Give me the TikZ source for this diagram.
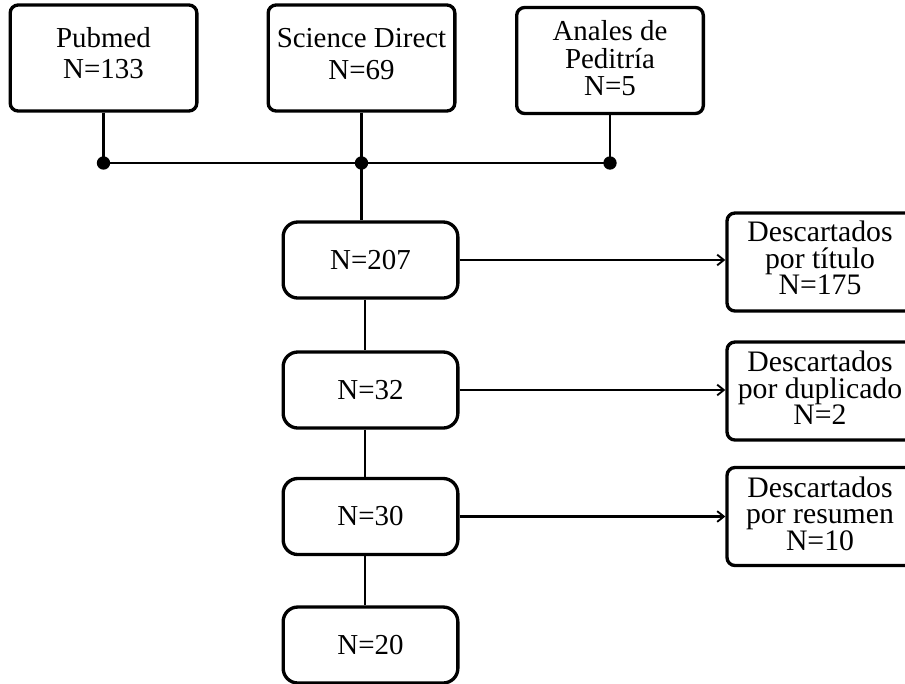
\documentclass[tikz,border=0pt]{standalone}
\usepackage{fontspec}
\setmainfont{Liberation Serif}
\usetikzlibrary{arrows.meta}
\begin{document}
\begin{tikzpicture}[x=0.75pt,y=-0.75pt,
  every node/.style={align=center, inner sep=0pt},
  toptxt/.style={font=\fontsize{21.7pt}{23.8pt}\selectfont},
  antxt/.style={font=\fontsize{21.7pt}{20.6pt}\selectfont},
  sidetxt/.style={font=\fontsize{22.3pt}{20pt}\selectfont},
  midtxt/.style={font=\fontsize{21.7pt}{24pt}\selectfont},
  topbox/.style={draw, line width=2.5pt, rounded corners=6pt, minimum width=140pt, minimum height=79.5pt},
  midbox/.style={draw, line width=2.5pt, rounded corners=11pt, minimum width=131pt, minimum height=57pt, midtxt},
  sidebox/.style={draw, line width=2.5pt, rounded corners=6pt, minimum width=139.5pt, minimum height=73.5pt},
  conn/.style={line width=1.7pt},
  arr/.style={line width=1.7pt, -{Straight Barb[length=5pt,width=8pt,line width=1.4pt]}},
  dot/.style={circle, fill=black, minimum size=10pt, inner sep=0pt}]
\useasboundingbox (0,0) rectangle (905,683);
% top source boxes
\node[topbox] (pub) at (103.5,58) {};
\node[toptxt] (pubt) at (103.5,53) {Pubmed\\N=133};
\node[topbox] (sd) at (361.5,58) {};
\node[toptxt] (sdt) at (361.5,54) {Science Direct\\N=69};
\node[topbox] (an) at (610,60.5) {};
\node[antxt] (ant) at (610,58.5) {Anales de\\Peditría\\N=5};
% bus
\node[dot] (d1) at (103.5,163) {};
\node[dot] (d2) at (361.5,163) {};
\node[dot] (d3) at (610,163) {};
% main column
\node[midbox] (n207) at (370.5,260) {N=207};
\node[midbox] (n32) at (370.5,390) {N=32};
\node[midbox] (n30) at (370.5,516.5) {N=30};
\node[midbox] (n20) at (370.5,645) {N=20};
% side boxes
\node[sidebox] (r1) at (820,262) {};
\node[sidetxt] (r1t) at (820,258) {Descartados\\por título\\N=175};
\node[sidebox] (r2) at (820,391) {};
\node[sidetxt] (r2t) at (820,388) {Descartados\\por duplicado\\N=2};
\node[sidebox] (r3) at (820,516.5) {};
\node[sidetxt] (r3t) at (820,513.5) {Descartados\\por resumen\\N=10};
\coordinate (spine) at (365,0);
\draw[conn] (pub.south) -- (d1.center);
\draw[conn] (sd.south) -- (d2.center);
\draw[conn] (an.south) -- (d3.center);
\draw[conn] (d1.center) -- (d3.center);
\draw[conn] (d2.center) -- (d2 |- n207.north);
\draw[conn] (n207.south -| spine) -- (n32.north -| spine);
\draw[conn] (n32.south -| spine) -- (n30.north -| spine);
\draw[conn] (n30.south -| spine) -- (n20.north -| spine);
\draw[arr] (n207.east) -- (n207.east -| r1.west);
\draw[arr] (n32.east) -- (n32.east -| r2.west);
\draw[arr] (n30.east) -- (n30.east -| r3.west);
\end{tikzpicture}
\end{document}
